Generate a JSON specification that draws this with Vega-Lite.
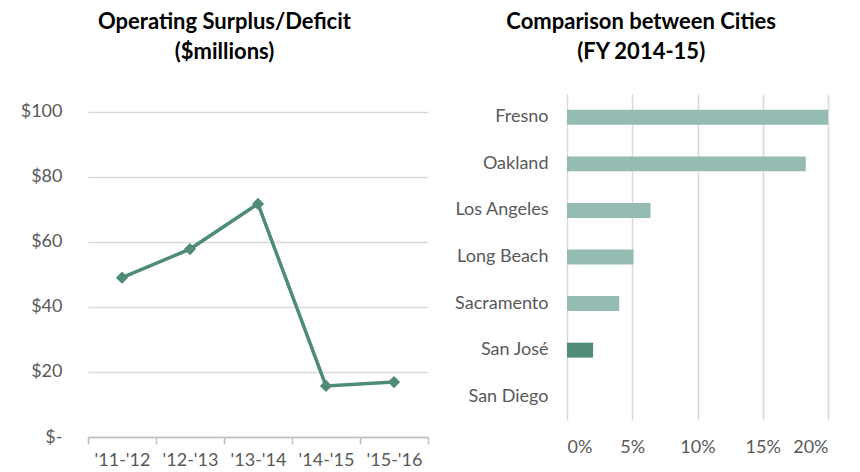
{
  "$schema": "https://vega.github.io/schema/vega-lite/v6.json",
  "background": "white",
  "padding": {"left": 20, "top": 11, "right": 5, "bottom": 5},
  "spacing": 25,
  "config": {
    "view": {"stroke": null},
    "font": "Lato",
    "axis": {"labelFont": "Lato", "labelFontSize": 18, "labelColor": "#595959", "title": null},
    "title": {"font": "Lato", "fontSize": 22, "fontWeight": "bold", "color": "#000000", "lineHeight": 30, "frame": "bounds", "anchor": "middle"}
  },
  "hconcat": [
    {
      "title": {"text": ["Operating Surplus/Deficit", "($millions)"], "offset": 30},
      "width": 340,
      "height": 343,
      "data": {"values": [
        {"year": "'11-'12", "surplus": 49},
        {"year": "'12-'13", "surplus": 57.8},
        {"year": "'13-'14", "surplus": 71.7},
        {"year": "'14-'15", "surplus": 15.7},
        {"year": "'15-'16", "surplus": 16.9}
      ]},
      "encoding": {
        "x": {"field": "year", "type": "ordinal", "sort": null,
          "scale": {"type": "band", "paddingInner": 0, "paddingOuter": 0},
          "axis": {"labelAngle": 0, "tickBand": "extent", "domainColor": "#bfbfbf", "domainWidth": 1.5, "tickColor": "#bfbfbf", "tickWidth": 1.5, "tickSize": 7, "labelPadding": 7}},
        "y": {"field": "surplus", "type": "quantitative",
          "scale": {"domain": [0, 105.5], "nice": false},
          "axis": {"values": [0, 20, 40, 60, 80, 100], "labelExpr": "datum.value == 0 ? '$-' : '$' + datum.value", "domain": false, "ticks": false, "gridColor": "#d9d9d9", "gridWidth": 1.5, "labelPadding": 26}}
      },
      "layer": [
        {"mark": {"type": "line", "color": "#4f8b78", "strokeWidth": 3.5}},
        {"mark": {"type": "point", "shape": "diamond", "filled": true, "size": 150, "color": "#4f8b78", "opacity": 1}}
      ]
    },
    {
      "title": {"text": ["Comparison between Cities", "(FY 2014-15)"], "offset": 30},
      "width": 261,
      "height": 326,
      "data": {"values": [
        {"city": "Fresno", "pct": 0.2},
        {"city": "Oakland", "pct": 0.183},
        {"city": "Los Angeles", "pct": 0.064},
        {"city": "Long Beach", "pct": 0.051},
        {"city": "Sacramento", "pct": 0.040},
        {"city": "San José", "pct": 0.020},
        {"city": "San Diego", "pct": 0.0}
      ]},
      "mark": {"type": "bar"},
      "encoding": {
        "y": {"field": "city", "type": "nominal", "sort": null,
          "scale": {"paddingInner": 0.68, "paddingOuter": 0.34},
          "axis": {"domain": false, "ticks": false, "labelPadding": 19}},
        "x": {"field": "pct", "type": "quantitative",
          "scale": {"domain": [0, 0.2], "nice": false},
          "axis": {"values": [0, 0.05, 0.1, 0.15, 0.2], "format": ".0%", "domain": false, "ticks": false, "gridColor": "#d9d9d9", "gridWidth": 1.5, "labelPadding": 18}},
        "color": {"condition": {"test": "datum.city === 'San José'", "value": "#4f8b78"}, "value": "#95bcb2"}
      }
    }
  ]
}
